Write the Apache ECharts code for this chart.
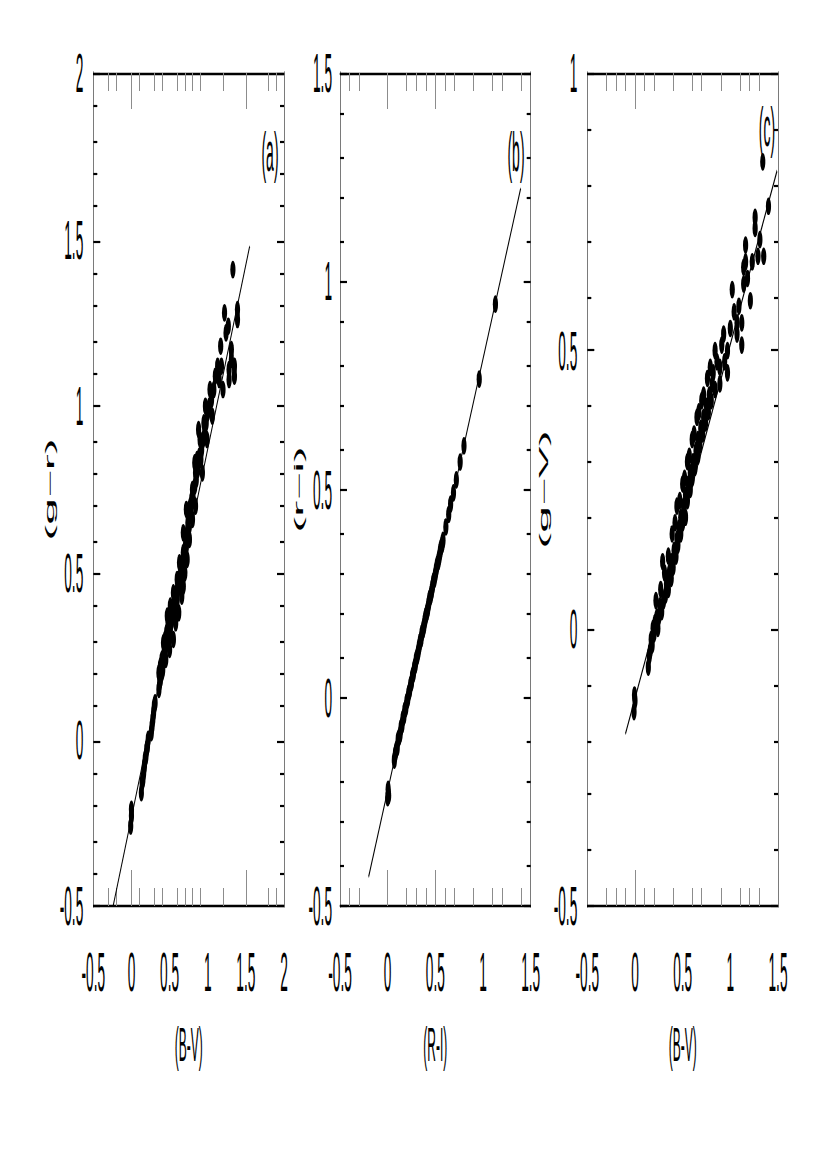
<!DOCTYPE html>
<html>
<head>
<meta charset="utf-8">
<script src="https://cdn.jsdelivr.net/npm/echarts@6/dist/echarts.min.js"></script>
<style>
html,body{margin:0;padding:0;background:#fff;}
#wrap{width:827px;height:1170px;overflow:hidden;background:#fff;position:relative;}
#main{width:827px;height:292.5px;transform:scaleY(4);transform-origin:0 0;}
</style>
</head>
<body>
<div id="wrap"><div id="main"></div></div>
<script>
// ---- tick labels ----
const xLabelsA = [-0.5, 0, 0.5, 1, 1.5, 2];
const yLabelsA = [-0.5, 0, 0.5, 1, 1.5, 2];
const xLabelsB = [-0.5, 0, 0.5, 1, 1.5];
const yLabelsB = [-0.5, 0, 0.5, 1, 1.5];
const xLabelsC = [-0.5, 0, 0.5, 1, 1.5];
const yLabelsC = [-0.5, 0, 0.5, 1];
// irregular x ticks as printed
const xMinorA = [-0.3, -0.2, 0.1, 0.3, 0.4, 0.6, 0.7, 0.8, 0.9, 1.2, 1.8, 1.9];
const xMajorA = [0, 1.5];
const xMinorB = [-0.4, -0.3, 0.2, 0.3, 0.4, 0.6, 0.7, 0.9, 1.1, 1.2, 1.4];
const xMajorB = [0, 0.5];
const xMinorC = [-0.3, -0.2, -0.1, 0.1, 0.2, 0.4, 0.6, 0.7, 0.9, 1.1, 1.2, 1.3];
const xMajorC = [0];
// axis titles
const panelTags = ['(a)', '(b)', '(c)'];
const xNames = ['(B-V)', '(R-I)', '(B-V)'];
const yNames = ['(g\u2212r)', '(r\u2212i)', '(g\u2212V)'];

// ---- data: panel (a) (B-V) vs (g-r) ----
const aData = [
[-0.01,-0.26],[0.0,-0.23],[0.0,-0.21],
[0.13,-0.16],[0.14,-0.13],[0.15,-0.12],[0.16,-0.10],[0.17,-0.08],[0.18,-0.06],[0.19,-0.05],[0.2,-0.03],[0.21,-0.02],[0.22,0.0],
[0.26,0.02],[0.27,0.04],[0.28,0.06],[0.29,0.08],[0.3,0.1],[0.31,0.11],
[0.36,0.15],[0.37,0.17],[0.38,0.18],[0.40,0.20],[0.41,0.21],
[0.40,0.24],[0.42,0.25],[0.43,0.26],[0.44,0.27],[0.45,0.28],[0.46,0.29],[0.47,0.3],[0.44,0.3],[0.48,0.31],[0.5,0.31],
[0.46,0.32],[0.49,0.33],[0.51,0.33],[0.48,0.34],[0.52,0.35],[0.5,0.36],[0.53,0.36],[0.55,0.37],[0.52,0.38],[0.54,0.39],
[0.57,0.39],[0.56,0.41],[0.58,0.42],[0.6,0.42],[0.59,0.44],[0.61,0.45],[0.63,0.46],[0.62,0.48],[0.64,0.49],[0.66,0.5],
[0.65,0.52],[0.67,0.53],[0.69,0.54],[0.68,0.56],[0.7,0.57],[0.72,0.58],[0.71,0.6],[0.73,0.62],[0.75,0.63],[0.74,0.65],
[0.76,0.67],[0.78,0.68],[0.77,0.7],[0.79,0.72],[0.81,0.72],[0.8,0.75],[0.83,0.76],[0.85,0.78],[0.84,0.8],[0.87,0.81],
[0.86,0.84],[0.89,0.85],[0.91,0.84],[0.92,0.87],[0.9,0.9],[0.94,0.9],[0.96,0.92],[0.95,0.95],[0.98,0.95],[1.0,0.98],
[1.02,1.0],[1.05,1.02],[1.03,1.05],[1.08,1.05],[1.1,1.09],
[0.38,0.22],[0.36,0.2],[0.45,0.24],[0.5,0.27],[0.55,0.3],[0.42,0.29],[0.58,0.35],[0.47,0.37],[0.62,0.38],[0.51,0.4],
[0.66,0.43],[0.55,0.44],[0.68,0.46],[0.6,0.48],[0.7,0.5],[0.63,0.53],[0.73,0.54],[0.76,0.6],[0.68,0.62],[0.8,0.66],
[0.72,0.69],[0.84,0.7],[0.83,0.83],[0.93,0.8],[0.88,0.93],[0.99,0.9],[1.06,0.97],[0.97,1.0],
[1.13,1.12],[1.15,1.08],[1.2,1.05],[1.28,1.11],[1.28,1.08],[1.35,1.12],[1.35,1.09],
[1.17,1.18],[1.18,1.12],[1.31,1.17],[1.31,1.14],
[1.22,1.28],[1.24,1.22],[1.27,1.24],[1.39,1.29],[1.39,1.26],[1.33,1.41]
];
const aFit = [[-0.24,-0.5],[1.55,1.48]];

// ---- panel (b) (R-I) vs (r-i) ----
const bData = [
[0.0,-0.24],[0.005,-0.22],[0.01,-0.235],
[0.07,-0.15],[0.08,-0.135],[0.09,-0.125],[0.1,-0.12],[0.11,-0.10],[0.12,-0.095],[0.13,-0.088],[0.14,-0.072],
[0.15,-0.066],[0.16,-0.05],[0.17,-0.045],[0.18,-0.03],[0.19,-0.025],[0.2,-0.01],[0.21,-0.004],[0.22,0.01],
[0.23,0.017],[0.24,0.031],[0.25,0.037],[0.26,0.052],[0.27,0.058],[0.28,0.072],[0.29,0.079],[0.3,0.093],
[0.31,0.1],[0.32,0.11],[0.33,0.123],[0.34,0.134],[0.35,0.141],[0.36,0.155],[0.37,0.162],[0.38,0.172],
[0.39,0.185],[0.4,0.196],[0.41,0.203],[0.42,0.213],[0.43,0.226],[0.44,0.238],[0.45,0.244],[0.46,0.254],
[0.47,0.267],[0.48,0.279],[0.49,0.285],[0.5,0.296],[0.51,0.309],[0.52,0.32],[0.53,0.326],[0.54,0.337],
[0.55,0.35],[0.56,0.361],[0.57,0.367],[0.58,0.378],
[0.61,0.41],[0.64,0.44],[0.66,0.465],[0.69,0.492],[0.72,0.523],[0.76,0.566],[0.8,0.605],
[0.96,0.765],[1.13,0.945]
];
const bFit = [[-0.2,-0.43],[1.395,1.223]];

// ---- panel (c) (B-V) vs (g-V) ----
const cData = [
[-0.01,-0.15],[0.0,-0.13],[-0.005,-0.12],
[0.14,-0.07],[0.15,-0.05],[0.16,-0.04],[0.17,-0.02],[0.18,-0.03],[0.19,0.0],[0.2,-0.01],[0.21,0.01],[0.23,0.02],
[0.25,0.02],[0.26,0.04],[0.28,0.03],[0.3,0.05],[0.32,0.06],
[0.33,0.08],[0.35,0.07],[0.36,0.1],[0.38,0.09],[0.38,0.12],[0.4,0.11],[0.41,0.14],[0.43,0.13],[0.44,0.16],[0.45,0.15],
[0.46,0.18],[0.48,0.17],[0.48,0.2],[0.5,0.19],[0.51,0.22],[0.53,0.2],[0.53,0.24],[0.55,0.23],[0.56,0.26],[0.58,0.25],
[0.58,0.28],[0.6,0.27],[0.61,0.3],[0.63,0.29],[0.64,0.32],[0.66,0.31],[0.66,0.34],[0.68,0.33],[0.69,0.36],[0.71,0.35],
[0.72,0.38],[0.74,0.37],[0.75,0.4],[0.77,0.39],[0.78,0.42],[0.8,0.41],[0.81,0.44],[0.84,0.43],[0.84,0.5],[0.89,0.47],
[0.89,0.44],[0.91,0.51],[0.97,0.5],[0.97,0.46],[1.0,0.54],[1.02,0.61],[1.07,0.55],[1.07,0.53],[1.12,0.55],[1.12,0.51],
[0.22,0.05],[0.27,0.07],[0.24,0.0],[0.31,0.1],[0.29,0.12],[0.35,0.13],[0.42,0.19],[0.39,0.17],[0.47,0.23],[0.44,0.22],
[0.52,0.27],[0.5,0.26],[0.57,0.31],[0.55,0.3],[0.62,0.35],[0.6,0.34],[0.67,0.39],[0.65,0.38],[0.72,0.42],[0.7,0.41],
[0.76,0.45],[0.79,0.47],[0.82,0.46],[0.86,0.48],[0.94,0.48],[0.93,0.53],[1.04,0.57],[1.09,0.58],[1.18,0.63],[1.23,0.66],
[1.14,0.65],[1.14,0.62],[1.16,0.69],[1.16,0.66],[1.21,0.59],[1.26,0.74],[1.26,0.72],[1.29,0.67],[1.31,0.7],[1.35,0.67],
[1.4,0.76],[1.34,0.84]
];
const cFit = [[-0.1,-0.19],[1.49,0.824]];

const FONT = "'Liberation Sans',Arial,Helvetica,sans-serif";

const panels = [
  {left:93.3, xl:xLabelsA, yl:yLabelsA, xmin:xMinorA, xmaj:xMajorA, data:aData, fit:aFit, lm:10, ng:38, tag:[270,38]},
  {left:340, xl:xLabelsB, yl:yLabelsB, xmin:xMinorB, xmaj:xMajorB, data:bData, fit:bFit, lm:8, ng:29, tag:[516,38]},
  {left:587.3, xl:xLabelsC, yl:yLabelsC, xmin:xMinorC, xmaj:xMajorC, data:cData, fit:cFit, lm:10, ng:28, tag:[767,31.75]}
];

const grid = [], xAxis = [], yAxis = [], series = [], graphic = [];
panels.forEach((p, i) => {
  grid.push({left:p.left, width:190.7, top:18.25, height:208.25, containLabel:false});
  const xlo = p.xl[0], xhi = p.xl[p.xl.length-1];
  const ylo = p.yl[0], yhi = p.yl[p.yl.length-1];
  const base = {type:'value', gridIndex:i, min:xlo, max:xhi, interval:0.5, splitLine:{show:false}};
  const tickStyle = {color:'#8c8c8c', width:1};
  xAxis.push(Object.assign({}, base, {
    position:'bottom', name:xNames[i], nameLocation:'middle', nameGap:28,
    nameTextStyle:{fontFamily:FONT, fontSize:12, color:'#000'},
    axisLine:{show:true, onZero:false, lineStyle:{color:'#000', width:0.58}},
    axisTick:{show:true, inside:true, length:4.5, customValues:p.xmin, lineStyle:tickStyle},
    axisLabel:{show:true, customValues:p.xl, margin:9.5, fontFamily:FONT, fontSize:13.7, color:'#000'}
  }));
  xAxis.push(Object.assign({}, base, {
    position:'top',
    axisLine:{show:true, onZero:false, lineStyle:{color:'#000', width:0.58}},
    axisTick:{show:true, inside:true, length:4.5, customValues:p.xmin, lineStyle:tickStyle},
    axisLabel:{show:false}
  }));
  xAxis.push(Object.assign({}, base, {
    position:'bottom', axisLine:{show:false, onZero:false},
    axisTick:{show:true, inside:true, length:9, customValues:p.xmaj, lineStyle:tickStyle},
    axisLabel:{show:false}
  }));
  xAxis.push(Object.assign({}, base, {
    position:'top', axisLine:{show:false, onZero:false},
    axisTick:{show:true, inside:true, length:9, customValues:p.xmaj, lineStyle:tickStyle},
    axisLabel:{show:false}
  }));
  const ybase = {type:'value', gridIndex:i, min:ylo, max:yhi, interval:0.5, splitLine:{show:false},
    axisLine:{show:true, onZero:false, lineStyle:{color:'#7a7a7a', width:1}},
    axisTick:{show:true, inside:true, length:7, lineStyle:{color:'#000', width:0.55}},
    minorTick:{show:true, splitNumber:5, length:4, lineStyle:{color:'#000', width:0.55}}};
  yAxis.push(Object.assign({}, ybase, {
    position:'left', name:yNames[i], nameLocation:'middle', nameGap:p.ng,
    nameTextStyle:{fontFamily:FONT, fontSize:12, color:'#000'},
    axisLabel:{show:true, customValues:p.yl, margin:p.lm, fontFamily:FONT, fontSize:13.7, color:'#000'}
  }));
  yAxis.push(Object.assign({}, ybase, {position:'right', axisLabel:{show:false}}));
  series.push({type:'scatter', xAxisIndex:4*i, yAxisIndex:2*i, data:p.data, symbol:'circle', symbolSize:[5.2, 4.4],
    itemStyle:{color:'#000', opacity:1}, silent:true});
  series.push({type:'line', xAxisIndex:4*i, yAxisIndex:2*i, data:p.fit, symbol:'none', silent:true,
    lineStyle:{color:'#000', width:0.8}});
  graphic.push({type:'text', x:p.tag[0], y:p.tag[1], silent:true,
    style:{text:panelTags[i], fontFamily:FONT, fontSize:14, fill:'#000', align:'center', verticalAlign:'middle'}});
});

const chart = echarts.init(document.getElementById('main'), null, {renderer:'svg'});
chart.setOption({
  animation:false,
  backgroundColor:'transparent',
  grid, xAxis, yAxis, series, graphic
});
</script>
</body>
</html>
